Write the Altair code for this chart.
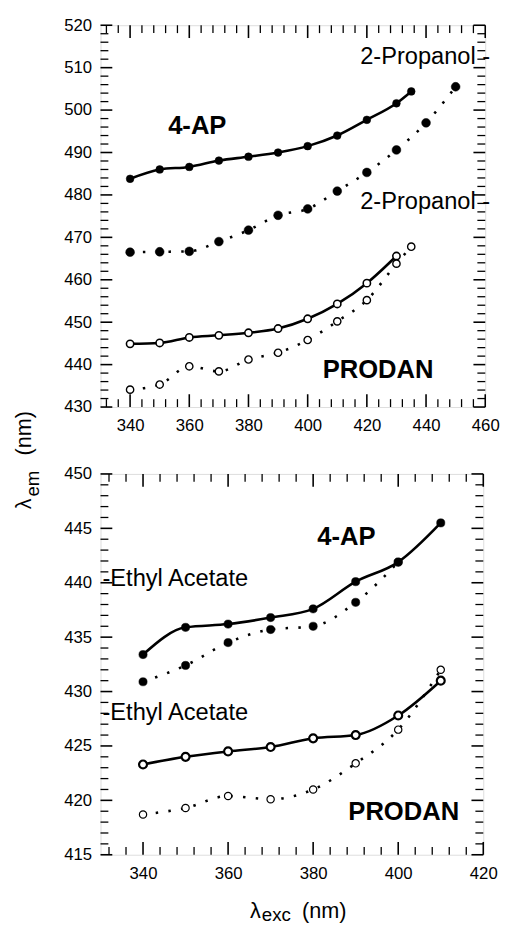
import altair as alt
import pandas as pd

FONT = "Liberation Sans"

# ---------------- top panel (2-Propanol) ----------------
top_ap_solid_x = [340, 350, 360, 370, 380, 390, 400, 410, 420, 430, 435]
top_ap_solid_y = [483.8, 486.0, 486.6, 488.1, 489.0, 490.0, 491.5, 494.0, 497.7, 501.6, 504.4]
top_ap_dot_x = [340, 350, 360, 370, 380, 390, 400, 410, 420, 430, 440, 450]
top_ap_dot_y = [466.5, 466.6, 466.7, 469.0, 471.7, 475.2, 476.7, 480.9, 485.3, 490.6, 497.0, 505.5]
top_pr_solid_x = [340, 350, 360, 370, 380, 390, 400, 410, 420, 430]
top_pr_solid_y = [444.9, 445.1, 446.4, 446.9, 447.5, 448.5, 450.8, 454.3, 459.2, 465.6]
top_pr_dot_x = [340, 350, 360, 370, 380, 390, 400, 410, 420, 430, 435]
top_pr_dot_y = [434.1, 435.3, 439.6, 438.4, 441.2, 442.8, 445.8, 450.2, 455.2, 463.8, 467.8]

top_x_domain = [330, 460]
top_y_domain = [430, 520]
top_x_labels = [340, 360, 380, 400, 420, 440, 460]
top_x_minor = [332, 336, 344, 348, 352, 356, 364, 368, 372, 376, 384, 388, 392, 396,
               404, 408, 412, 416, 424, 428, 432, 436, 444, 448, 452, 456]
top_y_labels = [430, 440, 450, 460, 470, 480, 490, 500, 510, 520]
top_y_minor = [v for v in range(430, 521, 2) if v % 10 != 0]

top_notes_bold = ["4-AP", "PRODAN"]
top_notes_bold_x = [362.7, 423.8]
top_notes_bold_y = [496.3, 438.6]
top_notes = ["2-Propanol -", "2-Propanol -"]
top_notes_x = [460, 460]
top_notes_y = [512.6, 478.2]

# ---------------- bottom panel (Ethyl Acetate) ----------------
bot_ap_solid_x = [340, 350, 360, 370, 380, 390, 400, 410]
bot_ap_solid_y = [433.4, 435.9, 436.2, 436.8, 437.6, 440.1, 441.9, 445.5]
bot_ap_dot_x = [340, 350, 360, 370, 380, 390, 400]
bot_ap_dot_y = [430.9, 432.4, 434.5, 435.7, 436.0, 438.2, 441.9]
bot_pr_solid_x = [340, 350, 360, 370, 380, 390, 400, 410]
bot_pr_solid_y = [423.3, 424.0, 424.5, 424.9, 425.7, 426.0, 427.8, 431.0]
bot_pr_dot_x = [340, 350, 360, 370, 380, 390, 400, 410]
bot_pr_dot_y = [418.7, 419.3, 420.4, 420.1, 421.0, 423.4, 426.5, 432.0]

bot_x_domain = [330, 420]
bot_y_domain = [415, 450]
bot_x_labels = [340, 360, 380, 400, 420]
bot_x_minor = [332, 336, 344, 348, 352, 356, 364, 368, 372, 376, 384, 388, 392, 396,
               404, 408, 412, 416]
bot_y_labels = [415, 420, 425, 430, 435, 440, 445, 450]
bot_y_minor = [v for v in range(415, 451) if v % 5 != 0]

bot_notes_bold = ["4-AP", "PRODAN"]
bot_notes_bold_x = [387.8, 401.3]
bot_notes_bold_y = [444.2, 418.9]
bot_notes = ["-Ethyl Acetate", "-Ethyl Acetate"]
bot_notes_x = [330, 330]
bot_notes_y = [440.3, 428.05]


def panel(W, H, xdom, ydom, xlab, xminor, ylab, yminor,
          series, bold, notes, notes_align, notes_dx, extra=None):
    xs = alt.Scale(domain=xdom, nice=False, zero=False)
    ys = alt.Scale(domain=ydom, nice=False, zero=False)
    ax = alt.Axis(values=xlab, ticks=False, tickSize=0, domain=False, grid=False,
                  labelFont=FONT, labelFontSize=17, labelColor="black",
                  labelPadding=11, labelFlush=False, labelOverlap=False, title=None)
    ay = alt.Axis(values=ylab, ticks=False, tickSize=0, domain=False, grid=False,
                  labelFont=FONT, labelFontSize=17, labelColor="black",
                  labelPadding=9, labelOverlap=False, title=None)
    layers = []
    first = True
    lines, points = [], []
    for xv, yv, dotted, filled, msize, mstroke in series:
        df = pd.DataFrame({"x": xv, "y": yv})
        if dotted:
            lm = alt.Chart(df).mark_line(color="black", strokeWidth=2.6,
                                         strokeDash=[2.5, 10.5], interpolate="monotone")
        else:
            lm = alt.Chart(df).mark_line(color="black", strokeWidth=2.6,
                                         interpolate="monotone")
        if first:
            enc = dict(x=alt.X("x:Q", scale=xs, axis=ax), y=alt.Y("y:Q", scale=ys, axis=ay))
            first = False
        else:
            enc = dict(x=alt.X("x:Q", scale=xs), y=alt.Y("y:Q", scale=ys))
        lines.append(lm.encode(**enc))
        if filled:
            pm = alt.Chart(df).mark_point(shape="circle", filled=True, fill="black",
                                          stroke="black", strokeWidth=0.5, size=msize, opacity=1)
        else:
            pm = alt.Chart(df).mark_point(shape="circle", filled=False, fill="white",
                                          stroke="black", strokeWidth=mstroke, size=msize,
                                          opacity=1, fillOpacity=1)
        points.append(pm.encode(x=alt.X("x:Q", scale=xs), y=alt.Y("y:Q", scale=ys)))
    layers += lines + points

    # inward ticks on all four sides
    def rules(vals, axis, side, length, sw):
        df = pd.DataFrame({"v": vals})
        m = alt.Chart(df).mark_rule(color="black", strokeWidth=sw)
        if axis == "x":
            if side == "bottom":
                return m.encode(x=alt.X("v:Q", scale=xs), y=alt.value(H), y2=alt.value(H - length))
            return m.encode(x=alt.X("v:Q", scale=xs), y=alt.value(0), y2=alt.value(length))
        if side == "left":
            return m.encode(y=alt.Y("v:Q", scale=ys), x=alt.value(0), x2=alt.value(length))
        return m.encode(y=alt.Y("v:Q", scale=ys), x=alt.value(W), x2=alt.value(W - length))

    for side in ["bottom", "top"]:
        layers.append(rules(xlab, "x", side, 13, 1.6))
        layers.append(rules(xminor, "x", side, 8, 1.3))
    for side in ["left", "right"]:
        layers.append(rules(ylab, "y", side, 12, 1.6))
        layers.append(rules(yminor, "y", side, 8, 1.3))

    bt, bx, by = bold
    dfb = pd.DataFrame({"t": bt, "x": bx, "y": by})
    layers.append(alt.Chart(dfb).mark_text(font=FONT, fontSize=26, fontWeight="bold",
                                           color="black", align="center", baseline="middle")
                  .encode(x=alt.X("x:Q", scale=xs), y=alt.Y("y:Q", scale=ys), text="t:N"))
    nt, nx, ny = notes
    dfn = pd.DataFrame({"t": nt, "x": nx, "y": ny})
    layers.append(alt.Chart(dfn).mark_text(font=FONT, fontSize=24, color="black",
                                           align=notes_align, baseline="middle", dx=notes_dx)
                  .encode(x=alt.X("x:Q", scale=xs), y=alt.Y("y:Q", scale=ys), text="t:N"))
    if extra:
        layers += extra
    return alt.layer(*layers).properties(width=W, height=H)


def txt(s, x, y, size, align="left", angle=0):
    d = pd.DataFrame({"t": [s]})
    kw = dict(font=FONT, fontSize=size, color="black", align=align, baseline="alphabetic")
    if angle:
        kw["angle"] = angle
    return alt.Chart(d).mark_text(**kw).encode(x=alt.value(x), y=alt.value(y), text="t:N")


TL, TT = 100, 20      # top panel plot origin (page coords)
BL, BT = 100, 476     # bottom panel plot origin (page coords)

ytitle = [
    txt("λ", 29 - TL, 512 - TT, 22, "left", 270),
    txt("em", 37 - TL, 499 - TT, 19, "left", 270),
    txt("(nm)", 29 - TL, 412 - TT, 22, "right", 270),
]
xtitle = [
    txt("λ", 252 - BL, 927 - BT, 22, "left"),
    txt("exc", 264 - BL, 930 - BT, 19, "left"),
    txt("(nm)", 350 - BL, 927 - BT, 22, "right"),
]

top = panel(391, 388, top_x_domain, top_y_domain, top_x_labels, top_x_minor,
            top_y_labels, top_y_minor,
            [(top_ap_solid_x, top_ap_solid_y, False, True, 62, 1),
             (top_ap_dot_x, top_ap_dot_y, True, True, 80, 1),
             (top_pr_solid_x, top_pr_solid_y, False, False, 55, 1.6),
             (top_pr_dot_x, top_pr_dot_y, True, False, 55, 1.4)],
            (top_notes_bold, top_notes_bold_x, top_notes_bold_y),
            (top_notes, top_notes_x, top_notes_y), "right", 5, extra=ytitle)

bottom = panel(389, 387, bot_x_domain, bot_y_domain, bot_x_labels, bot_x_minor,
               bot_y_labels, bot_y_minor,
               [(bot_ap_solid_x, bot_ap_solid_y, False, True, 70, 1),
                (bot_ap_dot_x, bot_ap_dot_y, True, True, 70, 1),
                (bot_pr_solid_x, bot_pr_solid_y, False, False, 65, 2.2),
                (bot_pr_dot_x, bot_pr_dot_y, True, False, 55, 1.2)],
               (bot_notes_bold, bot_notes_bold_x, bot_notes_bold_y),
               (bot_notes, bot_notes_x, bot_notes_y), "left", 2, extra=xtitle)

chart = alt.vconcat(top, bottom, spacing=68, bounds="flush").properties(
    padding={"left": 4, "top": 0, "right": 0, "bottom": 0}
).configure_view(stroke="black", strokeWidth=1.6).configure(background="white")

chart.save("out.html", embed_options={"renderer": "svg", "actions": False})
